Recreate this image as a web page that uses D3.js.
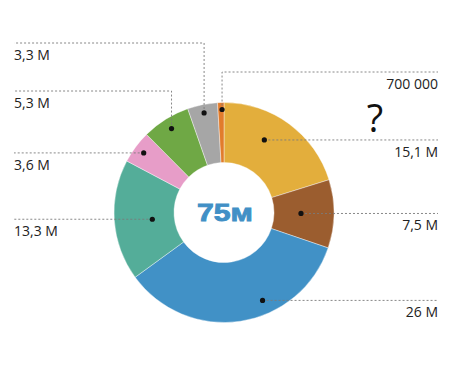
<!DOCTYPE html>
<html>
<head>
<meta charset="utf-8">
<script src="https://cdn.jsdelivr.net/npm/d3@7"></script>
<style>
  body { margin: 0; background: #fff; }
  svg { display: block; }
</style>
</head>
<body>
<div id="chart"></div>
<script>
// values in millions, clockwise from 12 o'clock
const labels = ["15,1 M", "7,5 M", "26 M", "13,3 M", "3,6 M", "5,3 M", "3,3 M", "700 000"];
const values = [15.1, 7.5, 26, 13.3, 3.6, 5.3, 3.3, 0.7];
const colors = ["#e3ae3c", "#9b5d2f", "#4191c6", "#54ad99", "#e79dc8", "#6fa845", "#a6a6a6", "#e17c2c"];
const totalLabel = "75м";

// leader placement: t = position inside slice, r = dot radius, elbow = y of the bent line
const leaders = [
  { t: 0.40, r: 83, side: "right" },
  { t: 0.50, r: 77, side: "right" },
  { t: 0.38, r: 96, side: "right" },
  { t: 0.48, r: 72, side: "left" },
  { t: 0.50, r: 100, side: "left" },
  { t: 0.50, r: 99, side: "left", elbow: 91 },
  { t: 0.50, r: 101.5, side: "left", elbow: 43 },
  { t: 0.68, r: 103, side: "right", elbow: 72 }
];

const width = 450, height = 376;
const cx = 224, cy = 212.5;
const outerR = 110, innerR = 50;

const svg = d3.select("#chart")
  .append("svg")
  .attr("width", width)
  .attr("height", height);

const pie = d3.pie().sort(null).value(d => d)
  .startAngle(0).endAngle(2 * Math.PI);
const arcs = pie(values);

const arc = d3.arc().innerRadius(innerR).outerRadius(outerR);

const g = svg.append("g").attr("transform", `translate(${cx},${cy})`);

g.selectAll("path")
  .data(arcs)
  .join("path")
  .attr("d", arc)
  .attr("fill", (d, i) => colors[i])
  .attr("stroke", "#fff")
  .attr("stroke-width", 0.4);

// center label
svg.append("text")
  .attr("x", cx + 1)
  .attr("y", cy + 8)
  .attr("text-anchor", "middle")
  .attr("textLength", 56)
  .attr("lengthAdjust", "spacingAndGlyphs")
  .style("font-family", "'Liberation Sans', Arial, sans-serif")
  .style("font-weight", "bold")
  .style("font-size", "23px")
  .attr("fill", "#4190c6")
  .attr("stroke", "#4190c6")
  .attr("stroke-width", 0.8)
  .text(totalLabel);

// leader lines, dots and value labels
const leftX = 14, rightX = 438;

arcs.forEach((a, i) => {
  const L = leaders[i];
  const ang = a.startAngle + (a.endAngle - a.startAngle) * L.t;
  const x = cx + L.r * Math.sin(ang);
  const y = cy - L.r * Math.cos(ang);
  const lineY = L.elbow != null ? L.elbow : y;
  const endX = L.side === "right" ? rightX : leftX;

  const pts = L.elbow != null
    ? [[x, y], [x, lineY], [endX, lineY]]
    : [[x, y], [endX, y]];

  svg.append("path")
    .attr("d", d3.line()(pts))
    .attr("fill", "none")
    .attr("stroke", "#7a7a7a")
    .attr("stroke-width", 0.9)
    .attr("stroke-dasharray", "2,2");

  svg.append("circle")
    .attr("cx", x)
    .attr("cy", y)
    .attr("r", 2.6)
    .attr("fill", "#111");

  svg.append("text")
    .attr("x", endX)
    .attr("y", lineY + 17)
    .attr("text-anchor", L.side === "right" ? "end" : "start")
    .style("font-family", "'Open Sans', sans-serif")
    .style("font-size", "14px")
    .attr("fill", "#222")
    .text(labels[i]);
});

svg.append("text")
  .attr("x", 375)
  .attr("y", 132)
  .attr("text-anchor", "middle")
  .style("font-family", "'Open Sans', sans-serif")
  .style("font-size", "38px")
  .attr("fill", "#111")
  .text("?");
</script>
</body>
</html>
